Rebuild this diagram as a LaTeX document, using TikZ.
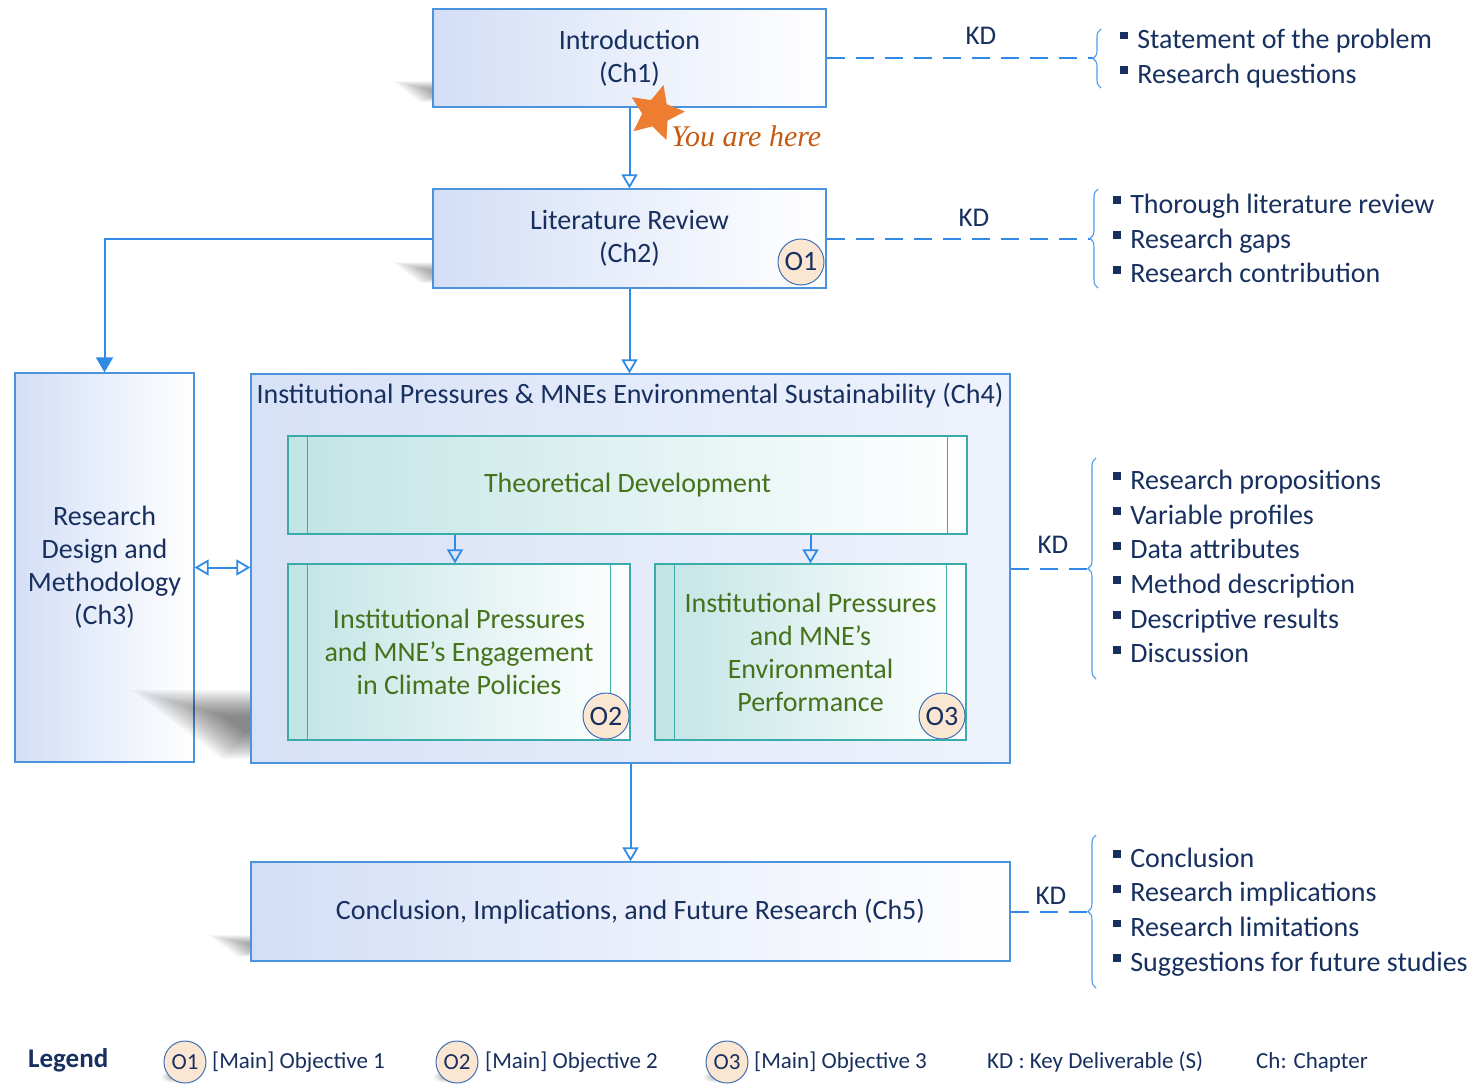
\documentclass[tikz,border=0pt]{standalone}
\usepackage{fontspec}
\setmainfont{Carlito}
\newfontfamily\herefont{Liberation Serif}
\usetikzlibrary{arrows.meta,shapes.geometric,decorations.pathreplacing}

\definecolor{navy}{HTML}{17305F}
\definecolor{lineblue}{HTML}{2F8BE6}
\definecolor{boxedge}{HTML}{4C93DE}
\definecolor{boxblue}{HTML}{D3DEF6}
\definecolor{boxpale}{HTML}{EEF2FC}
\definecolor{tealedge}{HTML}{3AABAB}
\definecolor{tealfill}{HTML}{C2E4E4}
\definecolor{olive}{HTML}{44731B}
\definecolor{peach}{HTML}{FBE6D2}
\definecolor{ringblue}{HTML}{3F70B5}
\definecolor{starorange}{HTML}{ED7D31}
\definecolor{heretext}{HTML}{C55A11}

% small square bullet for the deliverable lists
\newcommand\sqbul{{\color{navy}\rule[0.33em]{0.28em}{0.28em}}\hspace{0.33em}}

% soft shadow: the same outline stacked at shrinking sizes around a centre
% #1 centre, #2 opacity of one layer, #3 outline relative to the centre
\newcommand\softshadow[3]{%
  \foreach \s in {1,0.95,0.9,0.85,0.8,0.75,0.7,0.65,0.6,0.55,0.5,0.45,0.4,0.35,0.3,0.25}{%
    \fill[black, opacity=#2, shift={#1}, scale=\s] #3;}}

\tikzset{
  chapbox/.style={draw=boxedge, line width=1.3pt, left color=boxblue, right color=white,
    text=navy, align=center, inner sep=0pt, font=\fontsize{28}{33}\selectfont},
  procbox/.style={draw=tealedge, line width=1.2pt, left color=tealfill, right color=white,
    text=olive, align=center, inner sep=0pt, font=\fontsize{28}{33}\selectfont},
  stripe/.style={draw=tealedge, line width=1.2pt},
  objcircle/.style={circle, draw=ringblue, line width=1pt, fill=peach, text=navy,
    inner sep=0pt, minimum size=46pt, font=\fontsize{28}{28}\selectfont},
  legcircle/.style={objcircle, minimum size=42pt, font=\fontsize{23}{23}\selectfont},
  conn/.style={draw=lineblue, line width=2pt},
  openhead/.style={-{Triangle[open, length=14pt, width=16pt, line width=1.8pt]}},
  solidhead/.style={-{Triangle[length=15pt, width=17pt]}},
  kdline/.style={draw=lineblue, line width=2pt, dash pattern=on 18pt off 11pt},
  kdlabel/.style={text=navy, inner sep=0pt, font=\fontsize{27}{27}\selectfont},
  bracket/.style={draw=lineblue!85, line width=1.1pt, decorate,
    decoration={brace, amplitude=8pt}},
  deliverables/.style={text=navy, align=left, anchor=west, inner sep=0pt,
    font=\fontsize{28}{34.7}\selectfont},
  legendtext/.style={text=navy, anchor=west, inner sep=0pt, font=\fontsize{23}{23}\selectfont}
}

\begin{document}
\begin{tikzpicture}[x=1pt, y=-1pt]
\useasboundingbox (0,0) rectangle (1474,1084);
\fill[white] (0,0) rectangle (1474,1084);

% perspective shadows falling to the lower left of the boxes
\softshadow{(442,92)}{0.025}{(-22,10) -- (45,10) -- (20,-11) -- (-50,-11) -- cycle}
\softshadow{(442,273)}{0.022}{(-22,10) -- (45,10) -- (20,-11) -- (-50,-11) -- cycle}
\softshadow{(260,946)}{0.025}{(-22,11) -- (45,11) -- (17,-11) -- (-52,-11) -- cycle}

% chapters
\node[chapbox, minimum width=393pt, minimum height=98pt] (intro) at (629.5,58)
  {Introduction\\(Ch1)};
\node[chapbox, minimum width=393pt, minimum height=99pt] (lit) at (629.5,238.5)
  {Literature Review\\(Ch2)};
\node[chapbox, minimum width=179pt, minimum height=389pt] (ch3) at (104.5,567.5)
  {Research\\Design and\\Methodology\\(Ch3)};
% the chapter 4 shadow falls over the chapter 3 box
\softshadow{(252,724)}{0.037}{(-30,35) -- (110,35) -- (10,-34) -- (-120,-34) -- cycle}
\node[chapbox, left color=boxblue!90, right color=boxpale, minimum width=759pt, minimum height=389pt] (ch4) at (630.5,568.5) {};
\node[text=navy, inner sep=0pt, font=\fontsize{28}{28}\selectfont] (ch4title) at (630,396)
  {Institutional Pressures \& MNEs Environmental Sustainability (Ch4)};
\node[chapbox, minimum width=759pt, minimum height=99pt] (ch5) at (630.5,911.5)
  {Conclusion, Implications, and Future Research (Ch5)};

% inner process boxes of chapter 4
\node[procbox, minimum width=679pt, minimum height=98pt] (td) at (627.5,485)
  {Theoretical Development};
\node[procbox, minimum width=342pt, minimum height=176pt] (o2box) at (459,652)
  {Institutional Pressures\\and MNE’s Engagement\\in Climate Policies};
\node[procbox, minimum width=311pt, minimum height=176pt] (o3box) at (810.5,652)
  {Institutional Pressures\\and MNE’s\\Environmental\\Performance};
\foreach \b in {td,o2box,o3box}{
  \draw[stripe] ([xshift=20pt]\b.north west) -- ([xshift=20pt]\b.south west);
  \draw[stripe] ([xshift=-20pt]\b.north east) -- ([xshift=-20pt]\b.south east);
}

% objective markers
\node[objcircle] (obj1) at (801,262) {O1};
\node[objcircle] (obj2) at (606,716) {O2};
\node[objcircle] (obj3) at (942,716) {O3};

% position marker
\node[star, star points=5, star point ratio=2.1, minimum size=58pt, inner sep=0pt,
  fill=starorange, rotate=-15] (here) at (656,113) {};
\node[anchor=west, inner sep=0pt, text=heretext,
  font=\herefont\itshape\fontsize{30}{30}\selectfont] (herelabel) at (671,136) {You are here};

% flow between chapters
\draw[conn, openhead] (intro.south) -- (lit.north);
\draw[conn, solidhead] (lit.west) -| (ch3.north);
\draw[conn, openhead] (lit.south) -- (lit.south |- ch4.north);
\draw[conn, {Triangle[open, length=14pt, width=16pt, line width=1.8pt]}-{Triangle[open, length=14pt, width=16pt, line width=1.8pt]}]
  (ch3.east) -- (ch3.east -| ch4.west);
\draw[conn, openhead] (td.south -| 455,0) -- (o2box.north -| 455,0);
\draw[conn, openhead] (td.south -| o3box.north) -- (o3box.north);
\draw[conn, openhead] (ch4.south) -- (ch5.north);

% key deliverables
\coordinate (tip1) at (1093,58);
\coordinate (tip2) at (1090,238.5);
\coordinate (tip3) at (1088,568.5);
\coordinate (tip4) at (1088,911.5);

\draw[kdline] (intro.east) -- (tip1);
\draw[kdline] (lit.east) -- (tip2);
\draw[kdline] (ch4.east) -- (tip3);
\draw[kdline] (ch5.east) -- (tip4);

\node[kdlabel] (kd1) at (981,36) {KD};
\node[kdlabel] (kd2) at (974,218) {KD};
\node[kdlabel] (kd3) at (1053,545) {KD};
\node[kdlabel] (kd4) at (1051,896) {KD};

\draw[bracket] (1101,88) -- (1101,29);
\draw[bracket] (1098,288) -- (1098,189);
\draw[bracket] (1096,679) -- (1096,458);
\draw[bracket] (1096,988) -- (1096,835);

\node[deliverables] (del1) at (1120,58.5)
  {\sqbul Statement of the problem\\\sqbul Research questions};
\node[deliverables] (del2) at (1113,238.5)
  {\sqbul Thorough literature review\\\sqbul Research gaps\\\sqbul Research contribution};
\node[deliverables] (del3) at (1113,566.5)
  {\sqbul Research propositions\\\sqbul Variable profiles\\\sqbul Data attributes\\\sqbul Method description\\\sqbul Descriptive results\\\sqbul Discussion};
\node[deliverables] (del4) at (1113,912)
  {\sqbul Conclusion\\\sqbul Research implications\\\sqbul Research limitations\\\sqbul Suggestions for future studies};

% legend
\node[anchor=west, inner sep=0pt, text=navy, font=\bfseries\fontsize{27}{27}\selectfont]
  (legend) at (28,1060) {Legend};
\softshadow{(177,1077)}{0.018}{(0,0) ellipse [x radius=16, y radius=6]}
\softshadow{(449,1077)}{0.018}{(0,0) ellipse [x radius=16, y radius=6]}
\softshadow{(719,1077)}{0.018}{(0,0) ellipse [x radius=16, y radius=6]}
\node[legcircle] (leg1) at (185,1062) {O1};
\node[legcircle] (leg2) at (457,1062) {O2};
\node[legcircle] (leg3) at (727,1062) {O3};
\node[legendtext] (legt1) at (212,1062) {[Main] Objective 1};
\node[legendtext] (legt2) at (485,1062) {[Main] Objective 2};
\node[legendtext] (legt3) at (754,1062) {[Main] Objective 3};
\node[legendtext] (legkd) at (987,1062) {KD : Key Deliverable (S)};
\node[legendtext] (legch) at (1256,1062) {Ch: Chapter};
\end{tikzpicture}
\end{document}
